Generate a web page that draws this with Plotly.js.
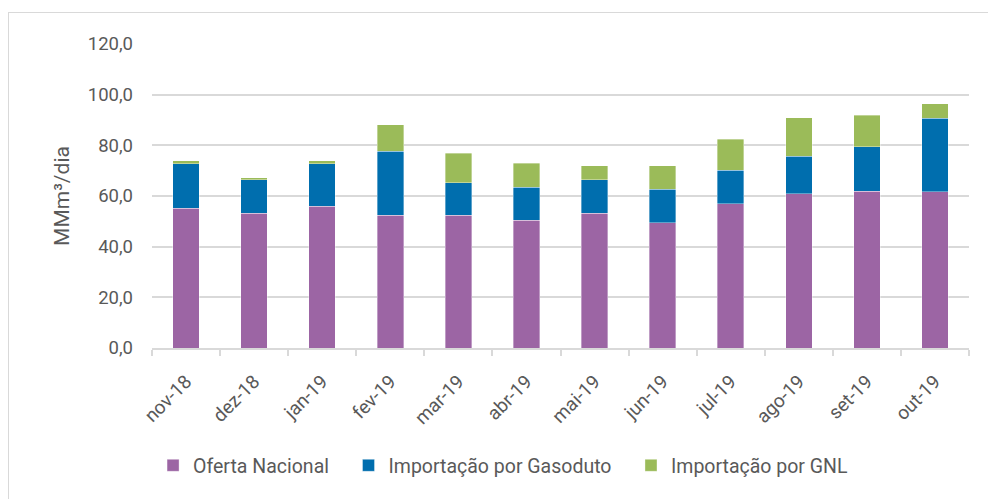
<!DOCTYPE html>
<html>
<head>
<meta charset="utf-8">
<script src="https://cdn.plot.ly/plotly-3.0.1.min.js"></script>
<style>
  html, body { margin: 0; padding: 0; background: #ffffff; }
  #wrap { position: relative; width: 988px; height: 499px; overflow: hidden; }
  #chart { position: absolute; left: 0; top: 0; width: 988px; height: 499px; }
  #frame { position: absolute; left: 8px; top: 12px; width: 1000px; height: 520px;
           border: 1px solid #d9d9d9; pointer-events: none; box-sizing: border-box; }
</style>
</head>
<body>
<div id="wrap">
  <div id="chart"></div>
  <div id="frame"></div>
</div>
<script>
const months = ["nov-18","dez-18","jan-19","fev-19","mar-19","abr-19","mai-19","jun-19","jul-19","ago-19","set-19","out-19"];
const ofertaNacional = [55.2, 53.2, 56.0, 52.5, 52.5, 50.5, 53.2, 49.4, 57.0, 60.9, 61.8, 61.7];
const importacaoGasoduto = [17.6, 13.2, 16.8, 25.1, 12.8, 13.0, 13.2, 13.2, 13.1, 14.8, 17.6, 29.0];
const importacaoGNL = [1.1, 0.9, 1.1, 10.5, 11.5, 9.5, 5.6, 9.4, 12.3, 15.1, 12.4, 5.7];
const seriesNames = ["Oferta Nacional", "Importação por Gasoduto", "Importação por GNL"];
const yTicks = [0, 20, 40, 60, 80, 100, 120];
const yTickText = ["0,0", "20,0", "40,0", "60,0", "80,0", "100,0", "120,0"];

const textColor = "#595959";
const fontFamily = "Roboto, 'Open Sans', sans-serif";
const pad = "\u00a0\u00a0\u00a0";

const edge = { color: "rgba(255,255,255,0.45)", width: 0.8 };
const traces = [
  { type: "bar", name: seriesNames[0] + pad, x: months, y: ofertaNacional,
    marker: { color: "#9c65a4", line: edge } },
  { type: "bar", name: seriesNames[1] + pad, x: months, y: importacaoGasoduto,
    marker: { color: "#006eae", line: edge } },
  { type: "bar", name: seriesNames[2], x: months, y: importacaoGNL,
    marker: { color: "#9bbb59", line: edge } }
];

const layout = {
  width: 988, height: 499,
  paper_bgcolor: "#ffffff", plot_bgcolor: "#ffffff",
  barmode: "stack", bargap: 0.61,
  margin: { l: 151.5, r: 18.5, t: 44, b: 150.7, pad: 0 },
  font: { family: fontFamily, color: textColor, size: 18 },
  showlegend: true,
  legend: {
    orientation: "h", traceorder: "normal",
    x: 0.4297, xanchor: "center", y: -0.387, yanchor: "middle",
    font: { family: fontFamily, size: 19.5, color: textColor },
    itemwidth: 30, bgcolor: "rgba(0,0,0,0)"
  },
  xaxis: {
    type: "category",
    showgrid: false, zeroline: false,
    showline: true, linecolor: "#d9d9d9", linewidth: 2,
    ticks: "outside", tickson: "boundaries", ticklen: 6, tickwidth: 2, tickcolor: "#d9d9d9",
    tickangle: -45, ticklabelstandoff: 13,
    tickfont: { family: fontFamily, size: 19, color: textColor },
    automargin: false
  },
  yaxis: {
    range: [0, 120],
    tickmode: "array", tickvals: yTicks, ticktext: yTickText,
    showgrid: true, gridcolor: "#d9d9d9", gridwidth: 2,
    zeroline: false, showline: false, ticks: "",
    ticklabelstandoff: 18,
    tickfont: { family: fontFamily, size: 18.5, color: textColor },
    title: { text: "MMm³/dia", font: { family: fontFamily, size: 21, color: textColor }, standoff: 12 },
    automargin: false
  }
};

Plotly.newPlot("chart", traces, layout, { displayModeBar: false, staticPlot: true });
</script>
</body>
</html>
